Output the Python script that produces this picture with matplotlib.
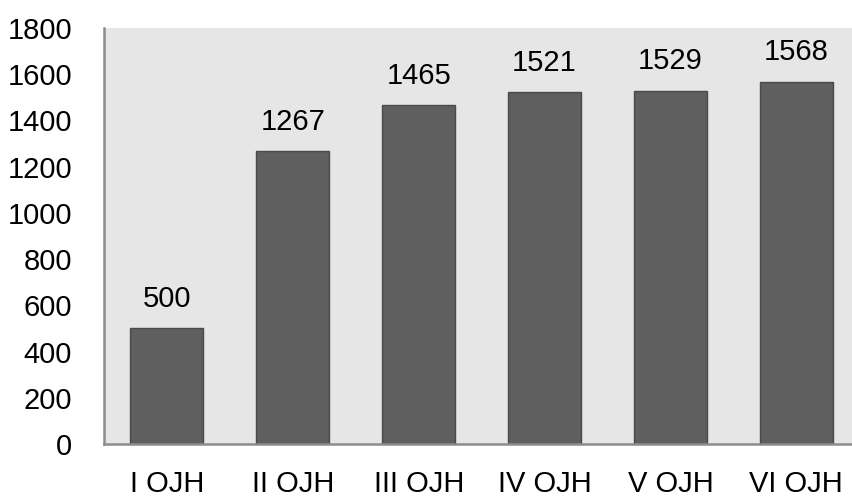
import numpy as np
import matplotlib.pyplot as plt

plt.rcParams['font.family'] = ['Liberation Sans', 'DejaVu Sans']

# Datos
categorias = ['I OJH', 'II OJH', 'III OJH', 'IV OJH', 'V OJH', 'VI OJH']
valores = [500, 1267, 1465, 1521, 1529, 1568]
yticks = np.arange(0, 1801, 200)

fig = plt.figure(figsize=(8.53, 4.97), dpi=100)
ax = fig.add_axes([104/853, 53/497, 749/853, 416/497])
ax.set_facecolor('#e6e6e6')

x = np.arange(len(categorias))
barras = ax.bar(x, valores, width=0.58, color='#5f5f5f', edgecolor='#4a4a4a', linewidth=1)

# Etiquetas de valor sobre cada barra
for xi, v in zip(x, valores):
    ax.annotate(str(v), (xi, v), xytext=(0, 11), textcoords='offset points',
                ha='center', va='bottom', fontsize=21, color='black')

ax.set_xlim(-0.5, 5.45)
ax.set_ylim(0, 1800)
ax.set_yticks(yticks)
ax.set_xticks(x)
ax.set_xticklabels(categorias)
ax.tick_params(axis='y', length=0, pad=23, labelsize=21)
ax.tick_params(axis='x', length=0, pad=19, labelsize=21)

for lado in ['top', 'right']:
    ax.spines[lado].set_visible(False)
for lado in ['left', 'bottom']:
    ax.spines[lado].set_color('#8c8c8c')
    ax.spines[lado].set_linewidth(1.8)

fig.savefig('out.png', dpi=100)
